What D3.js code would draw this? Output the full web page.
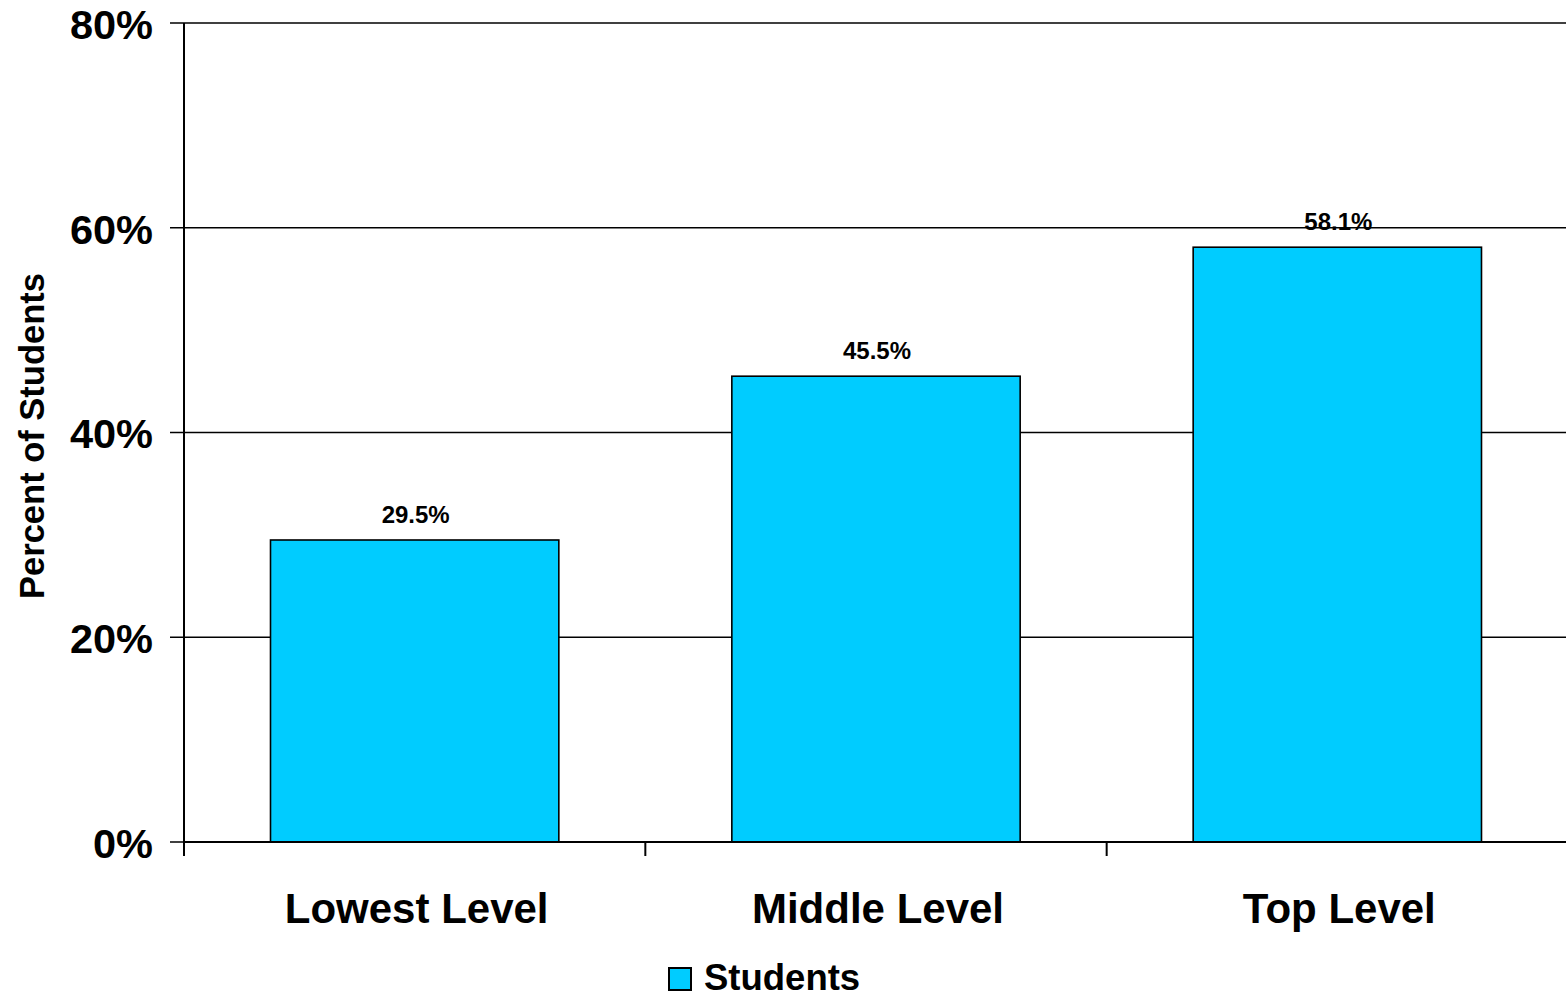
<!DOCTYPE html>
<html>
<head>
<meta charset="utf-8">
<script src="https://cdn.jsdelivr.net/npm/d3@7"></script>
<style>
  html, body { margin: 0; padding: 0; background: #fff; }
  svg { display: block; font-family: "Liberation Sans", Arial, sans-serif; font-weight: bold; }
</style>
</head>
<body>
<svg id="chart" width="1566" height="994"></svg>
<script>
const categories = ["Lowest Level", "Middle Level", "Top Level"];
const values = [29.5, 45.5, 58.1];
const valueLabels = ["29.5%", "45.5%", "58.1%"];
const yTicks = [0, 20, 40, 60, 80];
const yTickLabels = ["0%", "20%", "40%", "60%", "80%"];
const seriesName = "Students";
const yTitle = "Percent of Students";

(function () {
const svg = d3.select("#chart");
const mLeft = 184, mRight = 1568, mTop = 23, mBottom = 842;
const barColor = "#00CCFF";

const x = d3.scaleBand().domain(categories).range([mLeft, mRight])
  .paddingInner(0.375).paddingOuter(0.1875);
const y = d3.scaleLinear().domain([0, 80]).range([mBottom, mTop]);

// gridlines + y ticks
const yAxis = svg.append("g");
yTicks.forEach((t, i) => {
  yAxis.append("line")
    .attr("x1", mLeft - 14).attr("x2", 1566)
    .attr("y1", y(t)).attr("y2", y(t))
    .attr("stroke", "#000").attr("stroke-width", 1.6);
  yAxis.append("text")
    .attr("x", 153).attr("y", y(t) + 1)
    .attr("dy", "0.36em")
    .attr("text-anchor", "end")
    .attr("font-size", 41.5)
    .text(yTickLabels[i]);
});

// bars
svg.append("g").selectAll("rect").data(values).join("rect")
  .attr("x", (d, i) => x(categories[i]))
  .attr("width", x.bandwidth())
  .attr("y", d => y(d))
  .attr("height", d => y(0) - y(d))
  .attr("fill", barColor)
  .attr("stroke", "#000").attr("stroke-width", 1.6);

// value labels
svg.append("g").selectAll("text").data(values).join("text")
  .attr("x", (d, i) => x(categories[i]) + x.bandwidth() / 2 + 1)
  .attr("y", d => y(d) - 17)
  .attr("text-anchor", "middle")
  .attr("font-size", 24)
  .text((d, i) => valueLabels[i]);

// axes lines
svg.append("line").attr("x1", mLeft).attr("x2", mLeft).attr("y1", mTop).attr("y2", mBottom + 14)
  .attr("stroke", "#000").attr("stroke-width", 2);
svg.append("line").attr("x1", mLeft).attr("x2", 1566).attr("y1", mBottom).attr("y2", mBottom)
  .attr("stroke", "#000").attr("stroke-width", 2);

// x ticks at band boundaries + category labels
categories.forEach((c, i) => {
  const bx = x(c) - x.step() * x.paddingOuter();
  if (i > 0) {
    svg.append("line").attr("x1", bx).attr("x2", bx).attr("y1", mBottom).attr("y2", mBottom + 14)
      .attr("stroke", "#000").attr("stroke-width", 2);
  }
  svg.append("text")
    .attr("x", x(c) + x.bandwidth() / 2 + 2)
    .attr("y", 923)
    .attr("text-anchor", "middle")
    .attr("font-size", 42)
    .text(c);
});

// y title
svg.append("text")
  .attr("transform", "translate(44,436) rotate(-90)")
  .attr("text-anchor", "middle")
  .attr("font-size", 34.5)
  .text(yTitle);

// legend
svg.append("rect").attr("x", 669).attr("y", 968).attr("width", 22).attr("height", 22)
  .attr("fill", barColor).attr("stroke", "#000").attr("stroke-width", 2);
svg.append("text").attr("x", 704).attr("y", 990).attr("font-size", 36.5).text(seriesName);
})();
</script>
</body>
</html>
